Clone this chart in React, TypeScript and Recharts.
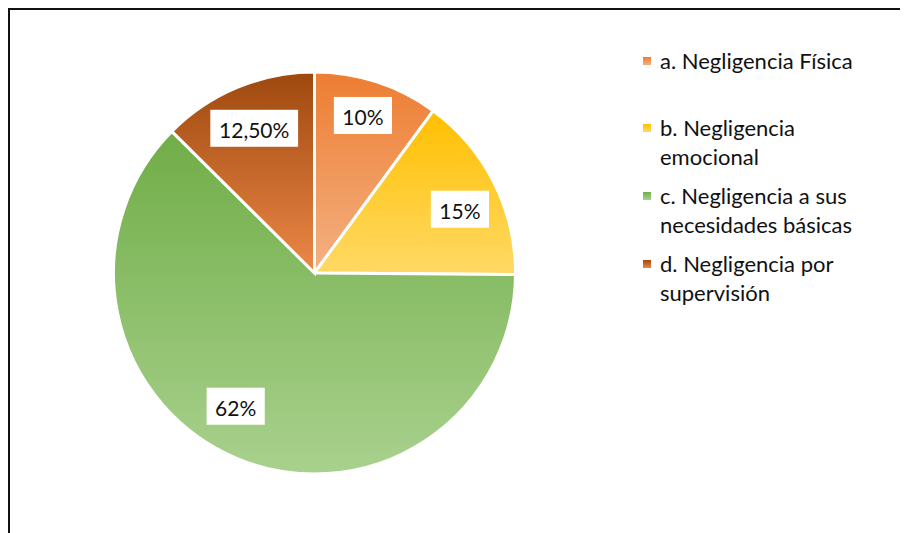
import React from 'react';
import { PieChart, Pie, Cell, Legend } from 'recharts';

const categories = [
  'a. Negligencia Física',
  'b. Negligencia emocional',
  'c. Negligencia a sus necesidades básicas',
  'd. Negligencia por supervisión',
];
const legendLines = [
  ['a. Negligencia Física'],
  ['b. Negligencia', 'emocional'],
  ['c. Negligencia a sus', 'necesidades básicas'],
  ['d. Negligencia por', 'supervisión'],
];
const values = [10, 15, 62, 12.5];
const valueLabels = ['10%', '15%', '62%', '12,50%'];

const gradTop = ['#ED7D31', '#FFC000', '#70AD47', '#9E480E'];
const gradBottom = ['#F4B183', '#FFD966', '#A9D18E', '#EC8848'];

const data = categories.map((name, i) => ({ name, value: values[i], label: valueLabels[i] }));

const FONT = 'Lato, "Open Sans", sans-serif';
const RAD = Math.PI / 180;
const LABEL_SIZE = 21;

const charW = (ch: string) => (ch === ',' ? 0.25 : ch === '%' ? 0.8 : 0.58);
const textWidth = (t: string) => t.split('').reduce((s, c) => s + charW(c), 0) * LABEL_SIZE;

// label placement tweaks (angle shift in degrees, radius fraction), mimicking Excel's best-fit
const labelAngleShift = [1, -3, -8, 0];
const labelRadius = [0.82, 0.79, 0.77, 0.78];

const renderLabel = (props: any) => {
  const { cx, cy, midAngle, outerRadius, index } = props;
  const r = outerRadius * labelRadius[index];
  const a = (midAngle + labelAngleShift[index]) * RAD;
  const x = cx + r * Math.cos(a);
  const y = cy - r * Math.sin(a);
  const text = valueLabels[index];
  const w = textWidth(text) + 17;
  const h = 37;
  return (
    <g key={`lbl-${index}`}>
      <rect x={x - w / 2} y={y - h / 2} width={w} height={h} fill="#fff" />
      <text x={x} y={y + 1} textAnchor="middle" dominantBaseline="central" fontFamily={FONT} fontSize={LABEL_SIZE} fill="#111">
        {text}
      </text>
    </g>
  );
};

const renderLegend = () => (
  <div style={{ fontFamily: FONT, fontSize: 22, color: '#111', lineHeight: '28.5px' }}>
    {legendLines.map((lines, i) => (
      <div key={i} style={{ position: 'relative', paddingLeft: 17, marginBottom: i === 0 ? 39 : 11 }}>
        <span
          style={{
            position: 'absolute',
            left: 0,
            top: 10,
            width: 8,
            height: 8,
            background: `linear-gradient(${gradTop[i]}, ${gradBottom[i]})`,
          }}
        />
        {lines.map((l, j) => (
          <div key={j} style={{ whiteSpace: 'nowrap' }}>{l}</div>
        ))}
      </div>
    ))}
  </div>
);

export default function App() {
  return (
    <div style={{ width: 900, height: 525, borderTop: '2px solid #111', borderLeft: '2px solid #111', position: 'relative' }}>
      <PieChart width={898} height={523} margin={{ top: 0, right: 0, bottom: 0, left: 0 }}>
        <defs>
          {gradTop.map((c, i) => (
            <linearGradient key={i} id={`g${i}`} x1="0" y1="0" x2="0" y2="1">
              <stop offset="0%" stopColor={c} />
              <stop offset="100%" stopColor={gradBottom[i]} />
            </linearGradient>
          ))}
        </defs>
        <Pie
          data={data}
          dataKey="value"
          nameKey="name"
          cx={304.5}
          cy={263}
          outerRadius={201}
          startAngle={90}
          endAngle={-270}
          stroke="#fff"
          strokeWidth={3}
          label={renderLabel}
          labelLine={false}
          isAnimationActive={false}
        >
          {data.map((d, i) => (
            <Cell key={i} fill={`url(#g${i})`} />
          ))}
        </Pie>
        <Legend
          content={renderLegend}
          layout="vertical"
          verticalAlign="top"
          align="right"
          wrapperStyle={{ left: 633, top: 36.5, width: 250 }}
        />
      </PieChart>
    </div>
  );
}
